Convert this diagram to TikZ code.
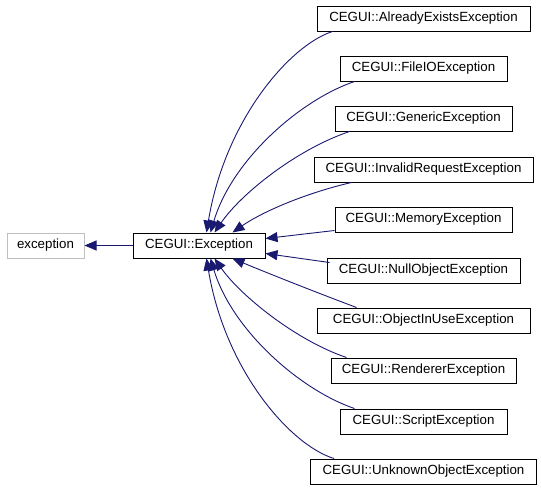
\documentclass[tikz,border=0pt]{standalone}
\usepackage{fontspec}
\setmainfont{Liberation Sans}
\usetikzlibrary{arrows.meta,calc}
\definecolor{edgeblue}{HTML}{191970}
\definecolor{boxgray}{HTML}{BFBFBF}
\begin{document}
\begin{tikzpicture}[x=1pt,y=-1pt,
  cls/.style={draw=black,line width=1pt,fill=white,inner sep=0pt,minimum height=25pt,font=\fontsize{13.3}{15}\selectfont,text=black},
  ext/.style={cls,draw=boxgray},
  edge/.style={draw=edgeblue,line width=0.9pt,-{Triangle[length=12pt,width=10pt]},fill=none},
]
\useasboundingbox (0,0) rectangle (541,493);
\node[ext,minimum width=77pt] (std) at (45.5,245.5) {exception};
\node[cls,minimum width=132pt] (ex) at (199,245.5) {CEGUI::Exception};
\node[cls,minimum width=213pt] (ae) at (423.5,18.5) {CEGUI::AlreadyExistsException};
\node[cls,minimum width=167pt] (fio) at (423.5,68.5) {CEGUI::FileIOException};
\node[cls,minimum width=177pt] (gen) at (423.5,118.5) {CEGUI::GenericException};
\node[cls,minimum width=219pt] (inv) at (423.5,169.5) {CEGUI::InvalidRequestException};
\node[cls,minimum width=177pt] (mem) at (423.5,219.5) {CEGUI::MemoryException};
\node[cls,minimum width=193pt] (nul) at (423.5,270.5) {CEGUI::NullObjectException};
\node[cls,minimum width=213pt] (oiu) at (423.5,320.5) {CEGUI::ObjectInUseException};
\node[cls,minimum width=185pt] (ren) at (423.5,370.5) {CEGUI::RendererException};
\node[cls,minimum width=167pt] (scr) at (423.5,421.5) {CEGUI::ScriptException};
\node[cls,minimum width=226pt] (unk) at (423.5,471.5) {CEGUI::UnknownObjectException};
\draw[edge] (ex.west) -- (std.east);
\draw[edge] ($(ae.south west)+(16,0)$) .. controls (290,45) and (225,120) .. ($(ex.north west)+(74,0)$);
\draw[edge] ($(fio.south west)+(15,0)$) .. controls (300,100) and (232,160) .. ($(ex.north west)+(78,0)$);
\draw[edge] ($(gen.south west)+(15,0)$) .. controls (295,150) and (240,195) .. ($(ex.north west)+(82,0)$);
\draw[edge] ($(inv.south west)+(38,0)$) .. controls (310,192) and (265,210) .. ($(ex.north west)+(100,0)$);
\draw[edge] ($(mem.south west)+(0,-2)$) -- ($(ex.north east)+(0,6)$);
\draw[edge] ($(nul.north west)+(3,5)$) -- ($(ex.south east)+(0,-5)$);
\draw[edge] ($(oiu.north west)+(40,0)$) .. controls (310,290) and (265,272) .. ($(ex.south west)+(100,0)$);
\draw[edge] ($(ren.north west)+(16,0)$) .. controls (295,340) and (240,295) .. ($(ex.south west)+(82,0)$);
\draw[edge] ($(scr.north west)+(15,0)$) .. controls (300,390) and (232,330) .. ($(ex.south west)+(78,0)$);
\draw[edge] ($(unk.north west)+(24,0)$) .. controls (290,445) and (225,370) .. ($(ex.south west)+(74,0)$);
\end{tikzpicture}
\end{document}
